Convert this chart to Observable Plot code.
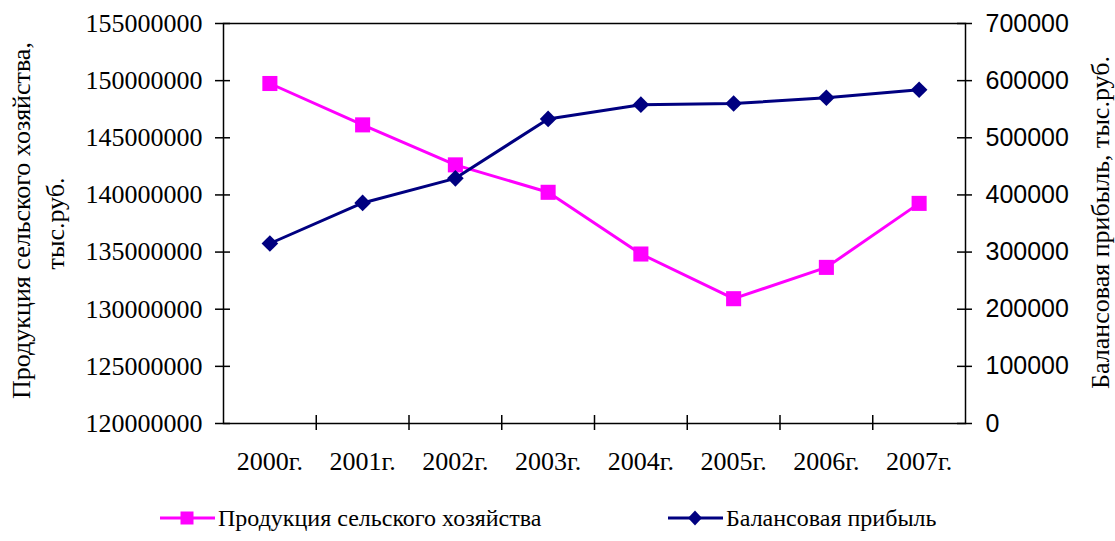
<!DOCTYPE html>
<html>
<head>
<meta charset="utf-8">
<script src="https://cdn.jsdelivr.net/npm/d3@7"></script>
<script src="https://cdn.jsdelivr.net/npm/@observablehq/plot@0.6"></script>
<style>
  body { margin: 0; background: #fff; font-family: "Times New Roman", Times, serif; }
  .lg { position: absolute; top: 495px; height: 46px; display: flex; align-items: center; font-family: "Times New Roman", Times, serif; font-size: 24px; color: #000; white-space: nowrap; }
  .lg svg { display: block; margin-right: 3px; }
  svg text.serif, .serif text { font-family: "Times New Roman", Times, serif !important; }
  .sans text { font-family: Arial, Helvetica, sans-serif !important; }
</style>
</head>
<body>
<div id="chart"></div>
<div class="lg" style="left:160px"><svg width="55" height="22"><line x1="0" x2="55" y1="11" y2="11" stroke="#FF00FF" stroke-width="3"/><rect x="20.5" y="4.5" width="13" height="13" fill="#FF00FF"/></svg><span>Продукция сельского хозяйства</span></div>
<div class="lg" style="left:668px"><svg width="55" height="22"><line x1="0" x2="55" y1="11" y2="11" stroke="#000080" stroke-width="3"/><path d="M27,3.5 L34,11 L27,18.5 L20,11 Z" fill="#000080"/></svg><span>Балансовая прибыль</span></div>
<script>
const years = ["2000г.", "2001г.", "2002г.", "2003г.", "2004г.", "2005г.", "2006г.", "2007г."];
const production = [149750000, 146130000, 142630000, 140230000, 134830000, 130920000, 133660000, 139260000];
const profit = [315000, 386000, 429000, 533000, 558000, 560000, 570000, 584000];
const leftTicks = [120000000, 125000000, 130000000, 135000000, 140000000, 145000000, 150000000, 155000000];
const rightTicks = [0, 100000, 200000, 300000, 400000, 500000, 600000, 700000];
const seriesNames = ["Продукция сельского хозяйства", "Балансовая прибыль"];
const leftTitle = ["Продукция сельского хозяйства,", "тыс.руб."];
const rightTitle = ["Балансовая прибыль, тыс.руб."];
const colors = ["#FF00FF", "#000080"];

const L0 = 120000000, L1 = 155000000, R0 = 0, R1 = 700000;
const toLeft = v => L0 + (v - R0) / (R1 - R0) * (L1 - L0);
const fromLeft = v => Math.round(R0 + (v - L0) / (L1 - L0) * (R1 - R0));

const prodData = years.map((y, i) => ({i: i + 0.5, v: production[i]}));
const profData = years.map((y, i) => ({i: i + 0.5, v: toLeft(profit[i])}));
const bounds = d3.range(1, years.length);
const centers = years.map((y, i) => i + 0.5);
const rightTickPos = rightTicks.map(toLeft);

const SERIF = "Times New Roman, Times, serif";
const SANS = "Arial, Helvetica, sans-serif";

const p = Plot.plot({
  width: 1115,
  height: 495,
  marginLeft: 223,
  marginRight: 150,
  marginTop: 23,
  marginBottom: 72,
  style: {fontFamily: SERIF, color: "#000", background: "#fff"},
  x: {type: "linear", domain: [0, years.length], axis: null},
  y: {type: "linear", domain: [L0, L1], axis: null},
  marks: [
    Plot.frame({stroke: "#000", strokeWidth: 1.5}),
    Plot.ruleX(bounds, {y1: L0, y2: L0, insetTop: -8, insetBottom: -7, stroke: "#000", strokeWidth: 1.5}),
    Plot.ruleY(leftTicks, {x1: 0, x2: 0, insetLeft: -8, insetRight: -7, stroke: "#000", strokeWidth: 1.5}),
    Plot.ruleY(rightTickPos, {x1: years.length, x2: years.length, insetLeft: -8, insetRight: -7, stroke: "#000", strokeWidth: 1.5}),
    Plot.text(leftTicks, {y: d => d, frameAnchor: "left", dx: -21, textAnchor: "end", lineAnchor: "middle", text: d => String(d), fontSize: 26, fontFamily: SERIF, fill: "#000", className: "serif"}),
    Plot.text(rightTickPos, {y: d => d, frameAnchor: "right", dx: 20, textAnchor: "start", lineAnchor: "middle", text: d => String(fromLeft(d)), fontSize: 25, fontFamily: SANS, fill: "#000", className: "sans"}),
    Plot.text(centers, {x: d => d, frameAnchor: "bottom", dy: 38, textAnchor: "middle", lineAnchor: "middle", text: d => years[Math.floor(d)], fontSize: 26, fontFamily: SERIF, fill: "#000", className: "serif"}),
    Plot.text([leftTitle[0]], {frameAnchor: "left", rotate: -90, dx: -202, dy: -3, textAnchor: "middle", lineAnchor: "middle", fontSize: 26, fontFamily: SERIF, fill: "#000", className: "serif"}),
    Plot.text([leftTitle[1]], {frameAnchor: "left", rotate: -90, dx: -168, textAnchor: "middle", lineAnchor: "middle", fontSize: 26, fontFamily: SERIF, fill: "#000", className: "serif"}),
    Plot.text(rightTitle, {frameAnchor: "right", rotate: -90, dx: 135, dy: -1, textAnchor: "middle", lineAnchor: "middle", fontSize: 26, fontFamily: SERIF, fill: "#000", className: "serif"}),
    Plot.line(prodData, {x: "i", y: "v", stroke: colors[0], strokeWidth: 3}),
    Plot.dot(prodData, {x: "i", y: "v", symbol: "square", r: 8.5, fill: colors[0], stroke: "none"}),
    Plot.line(profData, {x: "i", y: "v", stroke: colors[1], strokeWidth: 3}),
    Plot.dot(profData, {x: "i", y: "v", symbol: "diamond2", r: 7.5, fill: colors[1], stroke: "none"})
  ]
});
document.getElementById("chart").appendChild(p);
</script>
</body>
</html>
